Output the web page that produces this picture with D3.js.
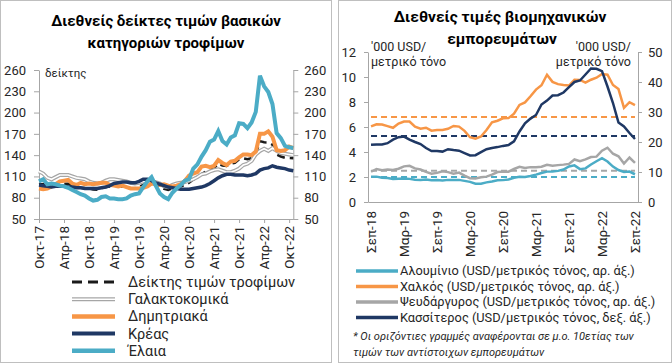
<!DOCTYPE html>
<html>
<head>
<meta charset="utf-8">
<script src="https://cdn.jsdelivr.net/npm/d3@7"></script>
<style>
body{margin:0;background:#fff;}
svg{font-family:Roboto, "Open Sans", sans-serif;}
.axis path, .axis line{stroke:#a6a6a6;}
.axis text{fill:#262626;}
</style>
</head>
<body>
<svg id="chart" width="672" height="364"></svg>
<script>
// ---- Left chart: FAO food price indices, Oct-17 .. Nov-22 (monthly)
let foodTickLabels = ["Οκτ-17","Απρ-18","Οκτ-18","Απρ-19","Οκτ-19","Απρ-20","Οκτ-20","Απρ-21","Οκτ-21","Απρ-22","Οκτ-22"];
let foodIndex = [98.6,99.3,96.6,97.7,99.4,99.2,99.5,99.7,97.4,94.7,94.0,93.6,
  93.0,91.4,91.3,93.3,95.2,95.7,96.9,96.6,95.4,94.3,93.3,93.4,
  95.2,98.2,101.0,102.5,99.4,95.1,92.4,91.0,93.1,94.0,95.9,97.9,
  101.0,105.6,108.5,113.3,116.9,119.0,121.6,128.1,125.3,124.6,128.0,129.2,
  134.0,135.4,134.1,135.6,141.1,159.7,158.1,157.9,154.7,140.7,138.0,136.3,
  135.9,135.7];
let dairy = [117,114,108,106,109,112,112,112,110,108,107,106,
  103,101,100,101,104,106,106,105,104,103,101,100,
  101,103,103,103,102,100,96,95,98,100,101,102,
  104,106,109,113,114,117,119,120,118,116,116,118,
  121,126,128,132,141,146,149,146,150,146,143,142,
  141,140];
let cereals = [93,92,93,96,99,103,104,105,100,98,101,99,
  100,99,100,101,101,98,97,96,97,95,93,93,
  93,94,96,100,99,98,99,97,96,97,99,104,
  111,114,116,124,125,123,125,133,129,126,131,132,
  137,141,141,140,145,170,170,173.5,166,147,146,147,
  152,150];
let meat = [98,97,96,95,96,96,96,95,95,94,94,93,
  93,93,93,94,95,97,100,101,102,102,101,101,
  103,106,106,104,101,99,97,95,94,93,92,92,
  92,93,94,95,97,100,104,108,111,113,113,112,
  112,112,111,112,114,119,121,122,125,123,122,121,
  119,118];
let oils = [103,106,99,100,99,97,96,94,91,88,85,83,
  79,76,77,81,82,79,79,78,78,79,83,85,
  86,95,103,109,97,86,81,78,87,93,98,104,
  106,121,127,138,147,159,162,174,160,155,165,168,
  185,184,178,186,201,252,237,229,212,171,164,153,
  151,150];

// ---- Right chart: industrial metals, Sep-18 .. Sep-22 ('000 USD / tonne)
let metalTickLabels = ["Σεπ-18","Μαρ-19","Σεπ-19","Μαρ-20","Σεπ-20","Μαρ-21","Σεπ-21","Μαρ-22","Σεπ-22"];
let aluminium = [2.03,2.03,1.94,1.92,
  1.85,1.86,1.87,1.85,1.78,1.76,1.80,1.74,1.75,1.72,1.77,1.77,
  1.77,1.69,1.61,1.46,1.46,1.57,1.64,1.74,1.75,1.80,1.94,2.02,
  2.00,2.08,2.19,2.32,2.43,2.44,2.49,2.60,2.84,2.93,2.63,2.69,
  3.00,3.26,3.50,3.24,2.83,2.56,2.40,2.43,2.22];
let copper = [6.05,6.22,6.20,6.07,
  5.94,6.28,6.44,6.44,6.03,5.87,5.94,5.71,5.76,5.76,5.86,6.08,
  6.03,5.69,5.18,5.06,5.24,5.76,6.37,6.50,6.70,6.71,7.06,7.77,
  7.97,8.46,8.99,9.34,10.18,9.61,9.43,9.36,9.32,9.78,9.77,9.55,
  9.78,9.94,10.24,10.18,9.36,9.03,7.53,7.98,7.75];
let zinc = [2.42,2.64,2.54,2.60,
  2.56,2.66,2.85,2.89,2.69,2.60,2.41,2.27,2.33,2.45,2.39,2.27,
  2.35,2.11,1.90,1.89,1.98,2.03,2.19,2.40,2.43,2.43,2.64,2.81,
  2.73,2.79,2.79,2.82,2.97,2.91,2.95,2.99,3.05,3.40,3.27,3.41,
  3.60,3.63,4.10,4.34,3.86,3.66,3.08,3.56,3.13];
let tin = [19.1,19.2,19.2,19.6,20.8,21.6,21.8,20.8,20.0,19.3,18.0,17.0,
  17.0,16.8,17.6,17.3,17.1,16.3,15.5,15.6,16.6,17.6,18.0,18.3,
  18.7,19.0,20.2,23.5,26.2,27.8,29.0,32.5,33.8,35.5,35.6,36.5,
  38.3,40.0,40.5,42.5,44.5,44.4,43.6,38.5,33.0,26.5,25.2,23.0,
  21.0];
// 10-year averages (horizontal dashed lines)
let avgCopper = 6.8, avgZinc = 2.5, avgAluminium = 2.0, avgTin = 22.0;

let colCyan = "#4bacc6", colOrange = "#f79646", colNavy = "#1f3864", colGray = "#a6a6a6";

let svg = d3.select("#chart");

// panel frames
svg.append("rect").attr("x",0.5).attr("y",0.5).attr("width",331).attr("height",362)
  .attr("fill","none").attr("stroke","#bfbfbf");
svg.append("rect").attr("x",338.5).attr("y",0.5).attr("width",333).attr("height",362)
  .attr("fill","none").attr("stroke","#bfbfbf");


// ===================== LEFT CHART =====================
let x1 = d3.scaleLinear().domain([0, foodIndex.length-1]).range([39, 293.3]);
let y1 = d3.scaleLinear().domain([50, 260]).range([219, 70]);
let yTicks1 = d3.range(50, 261, 30);

let g1 = svg.append("g");

g1.append("text").attr("x",166).attr("y",26).attr("text-anchor","middle")
  .attr("font-weight","bold").attr("font-size","15px").text("Διεθνείς δείκτες τιμών βασικών");
g1.append("text").attr("x",166).attr("y",48).attr("text-anchor","middle")
  .attr("font-weight","bold").attr("font-size","15px").text("κατηγοριών τροφίμων");

g1.append("g").attr("class","axis").attr("transform","translate(39,0)")
  .call(d3.axisLeft(y1).tickValues(yTicks1).tickSize(5).tickPadding(8).tickSizeOuter(0))
  .attr("font-size","13px").attr("font-family",null);
g1.append("g").attr("class","axis").attr("transform","translate(293.3,0)")
  .call(d3.axisRight(y1).tickValues(yTicks1).tickSize(5).tickPadding(6).tickSizeOuter(0))
  .attr("font-size","13px").attr("font-family",null);

let xAxis1 = g1.append("g").attr("class","axis").attr("transform","translate(0,219)")
  .call(d3.axisBottom(x1).tickValues(d3.range(0, 61, 6))
    .tickFormat((d,i)=>foodTickLabels[i]).tickSize(4).tickSizeOuter(0))
  .attr("font-size","13.5px").attr("font-family",null);
xAxis1.selectAll("text").attr("transform","rotate(-90)")
  .attr("x",-7).attr("y",0).attr("dy","0.35em").attr("text-anchor","end");

g1.append("text").attr("x",45).attr("y",77).attr("font-size","11.5px").attr("fill","#262626").text("δείκτης");

let line1 = d3.line().x((d,i)=>x1(i)).y(d=>y1(d));

// series in legend order (last one on top)
g1.append("path").attr("d",line1(foodIndex)).attr("fill","none")
  .attr("stroke","#1a1a1a").attr("stroke-width",2.5).attr("stroke-dasharray","8,5");
g1.append("path").attr("d",line1(dairy)).attr("fill","none")
  .attr("stroke",colGray).attr("stroke-width",4);
g1.append("path").attr("d",line1(dairy)).attr("fill","none")
  .attr("stroke","#fff").attr("stroke-width",1.6);
g1.append("path").attr("d",line1(cereals)).attr("fill","none")
  .attr("stroke",colOrange).attr("stroke-width",4);
g1.append("path").attr("d",line1(meat)).attr("fill","none")
  .attr("stroke",colNavy).attr("stroke-width",3.5);
g1.append("path").attr("d",line1(oils)).attr("fill","none")
  .attr("stroke",colCyan).attr("stroke-width",4);

// legend
let legend1 = [
  {name:"Δείκτης τιμών τροφίμων", color:"#1a1a1a", w:3, dash:"10,6"},
  {name:"Γαλακτοκομικά", color:colGray, w:4, double:true},
  {name:"Δημητριακά", color:colOrange, w:4.5},
  {name:"Κρέας", color:colNavy, w:4},
  {name:"Έλαια", color:colCyan, w:4.5}
];
legend1.forEach((s,i)=>{
  let yy = 282 + i*17.2;
  g1.append("line").attr("x1",72).attr("x2",115).attr("y1",yy).attr("y2",yy)
    .attr("stroke",s.color).attr("stroke-width",s.w).attr("stroke-dasharray",s.dash||null);
  if(s.double){
    g1.append("line").attr("x1",72).attr("x2",115).attr("y1",yy).attr("y2",yy)
      .attr("stroke","#fff").attr("stroke-width",1.6);
  }
  g1.append("text").attr("x",128).attr("y",yy).attr("dy","0.35em")
    .attr("font-size","14.5px").attr("fill","#262626").text(s.name);
});


// ===================== RIGHT CHART =====================
let x2 = d3.scaleLinear().domain([-0.55, copper.length-0.45]).range([368, 638]);
let y2 = d3.scaleLinear().domain([0, 12]).range([202, 52]);
let y2r = d3.scaleLinear().domain([0, 50]).range([202, 52]);

let g2 = svg.append("g");

g2.append("text").attr("x",500).attr("y",22).attr("text-anchor","middle")
  .attr("font-weight","bold").attr("font-size","15.5px").text("Διεθνείς τιμές βιομηχανικών");
g2.append("text").attr("x",502).attr("y",44).attr("text-anchor","middle")
  .attr("font-weight","bold").attr("font-size","15.5px").text("εμπορευμάτων");

g2.append("g").attr("class","axis").attr("transform","translate(368,0)")
  .call(d3.axisLeft(y2).tickValues(d3.range(0,13,2)).tickSize(4).tickPadding(8).tickSizeOuter(0))
  .attr("font-size","13px").attr("font-family",null);
g2.append("g").attr("class","axis").attr("transform","translate(638,0)")
  .call(d3.axisRight(y2r).tickValues(d3.range(0,51,10)).tickSize(4).tickPadding(6).tickSizeOuter(0))
  .attr("font-size","13px").attr("font-family",null);

let xAxis2 = g2.append("g").attr("class","axis").attr("transform","translate(0,202)")
  .call(d3.axisBottom(x2).tickValues(d3.range(0,49,6))
    .tickFormat((d,i)=>metalTickLabels[i]).tickSize(0).tickSizeOuter(0))
  .attr("font-size","13.5px").attr("font-family",null);
xAxis2.selectAll("text").attr("transform","rotate(-90)")
  .attr("x",-9).attr("y",0).attr("dy","0.35em").attr("text-anchor","end");

// unit labels
g2.append("text").attr("x",371).attr("y",51).attr("font-size","12.5px").attr("fill","#262626").text("'000 USD/");
g2.append("text").attr("x",371).attr("y",66).attr("font-size","12.5px").attr("fill","#262626").text("μετρικό τόνο");
g2.append("text").attr("x",631).attr("y",51).attr("text-anchor","end").attr("font-size","12.5px").attr("fill","#262626").text("'000 USD/");
g2.append("text").attr("x",631).attr("y",66).attr("text-anchor","end").attr("font-size","12.5px").attr("fill","#262626").text("μετρικό τόνο");

// 10-year average lines
let avgLines = [
  {v:avgCopper, s:y2, color:colOrange},
  {v:avgTin, s:y2r, color:colNavy},
  {v:avgZinc, s:y2, color:colGray},
  {v:avgAluminium, s:y2, color:colCyan}
];
avgLines.forEach(a=>{
  g2.append("line").attr("x1",x2(0)).attr("x2",x2(48)).attr("y1",a.s(a.v)).attr("y2",a.s(a.v))
    .attr("stroke",a.color).attr("stroke-width",2).attr("stroke-dasharray","6,4");
});

let lineL = d3.line().x((d,i)=>x2(i)).y(d=>y2(d));
let lineR = d3.line().x((d,i)=>x2(i)).y(d=>y2r(d));

g2.append("path").attr("d",lineL(aluminium)).attr("fill","none").attr("stroke",colCyan).attr("stroke-width",2.5);
g2.append("path").attr("d",lineL(copper)).attr("fill","none").attr("stroke",colOrange).attr("stroke-width",2.5);
g2.append("path").attr("d",lineL(zinc)).attr("fill","none").attr("stroke",colGray).attr("stroke-width",2.5);
g2.append("path").attr("d",lineR(tin)).attr("fill","none").attr("stroke",colNavy).attr("stroke-width",2.5);

let legend2 = [
  {name:"Αλουμίνιο (USD/μετρικός τόνος, αρ. άξ.)", color:colCyan},
  {name:"Χαλκός (USD/μετρικός τόνος, αρ. άξ.)", color:colOrange},
  {name:"Ψευδάργυρος (USD/μετρικός τόνος, αρ. άξ.)", color:colGray},
  {name:"Κασσίτερος (USD/μετρικός τόνος, δεξ. άξ.)", color:colNavy}
];
legend2.forEach((s,i)=>{
  let yy = 271 + i*15.5;
  g2.append("line").attr("x1",356).attr("x2",398).attr("y1",yy).attr("y2",yy)
    .attr("stroke",s.color).attr("stroke-width",3.5);
  g2.append("text").attr("x",400).attr("y",yy).attr("dy","0.35em")
    .attr("font-size","12.8px").attr("fill","#262626").text(s.name);
});

// footnote
g2.append("text").attr("x",353).attr("y",340).attr("font-size","11px").attr("font-style","italic")
  .attr("fill","#262626").text("* Οι οριζόντιες γραμμές αναφέρονται σε μ.ο. 10ετίας των");
g2.append("text").attr("x",353).attr("y",356).attr("font-size","11px").attr("font-style","italic")
  .attr("fill","#262626").text("τιμών των αντίστοιχων εμπορευμάτων");
</script>
</body>
</html>
